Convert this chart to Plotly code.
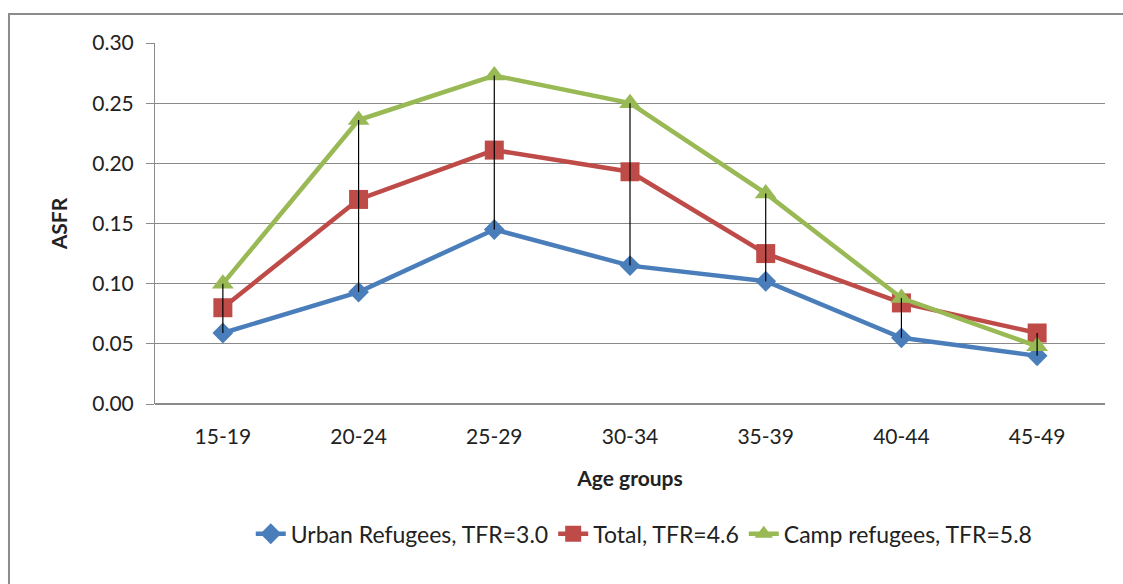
import plotly.graph_objects as go

# Age-specific fertility rates by age group
age_groups = ["15-19", "20-24", "25-29", "30-34", "35-39", "40-44", "45-49"]
urban = [0.059, 0.093, 0.145, 0.115, 0.102, 0.055, 0.040]
total = [0.080, 0.170, 0.211, 0.193, 0.125, 0.084, 0.059]
camp = [0.100, 0.236, 0.273, 0.250, 0.175, 0.088, 0.048]
y_ticks = [0.00, 0.05, 0.10, 0.15, 0.20, 0.25, 0.30]

FONT = "Lato, 'Open Sans', sans-serif"

fig = go.Figure()

series = [
    ("Urban Refugees, TFR=3.0", urban, "#4A7EBB", "diamond", 16),
    ("Total, TFR=4.6", total, "#BE4B48", "square", 19),
    ("Camp refugees, TFR=5.8", camp, "#98B954", "triangle-up", 19),
]
for name, vals, color, symbol, size in series:
    fig.add_trace(go.Scatter(
        x=age_groups, y=vals, name=name, mode="lines+markers",
        line=dict(color=color, width=4.5),
        marker=dict(symbol=symbol, size=size, color=color),
    ))

# High-low connector lines between the lowest and highest series at each age group
hl_x, hl_y = [], []
for i, cat in enumerate(age_groups):
    vals = [urban[i], total[i], camp[i]]
    hl_x += [cat, cat, None]
    hl_y += [min(vals), max(vals), None]
fig.add_trace(go.Scatter(x=hl_x, y=hl_y, mode="lines",
                         line=dict(color="black", width=1.2),
                         showlegend=False, hoverinfo="skip"))

fig.update_layout(
    width=1123, height=584,
    margin=dict(l=155, r=18, t=43, b=180),
    paper_bgcolor="white", plot_bgcolor="white",
    font=dict(family=FONT, size=21, color="#222222"),
    legend=dict(orientation="h", x=0.515, xanchor="center", y=-0.30, yanchor="top",
                font=dict(size=23), itemwidth=30, tracegroupgap=0,
                traceorder="normal"),
    xaxis=dict(
        type="category", range=[-0.5, 6.5],
        showgrid=False, showline=False, ticks="",
        ticklabelstandoff=18,
        tickfont=dict(size=21),
        title=dict(text="<b>Age groups</b>", font=dict(size=21), standoff=24),
    ),
    yaxis=dict(
        range=[0, 0.30], tickvals=y_ticks, tickformat=".2f",
        showgrid=True, gridcolor="#8A8A8A", gridwidth=1,
        showline=True, linecolor="#8A8A8A", linewidth=1,
        ticks="outside", ticklen=8, tickcolor="#8A8A8A",
        ticklabelstandoff=8,
        tickfont=dict(size=21), zeroline=True, zerolinecolor="#8A8A8A",
        title=dict(text="<b>ASFR</b>", font=dict(size=21), standoff=18),
    ),
    shapes=[dict(type="rect", xref="paper", yref="paper",
                 x0=-0.1537, x1=1.03, y0=-0.53, y1=1.0803,
                 line=dict(color="#8C8C8C", width=2), layer="below")],
)

fig.write_html("out.html")
